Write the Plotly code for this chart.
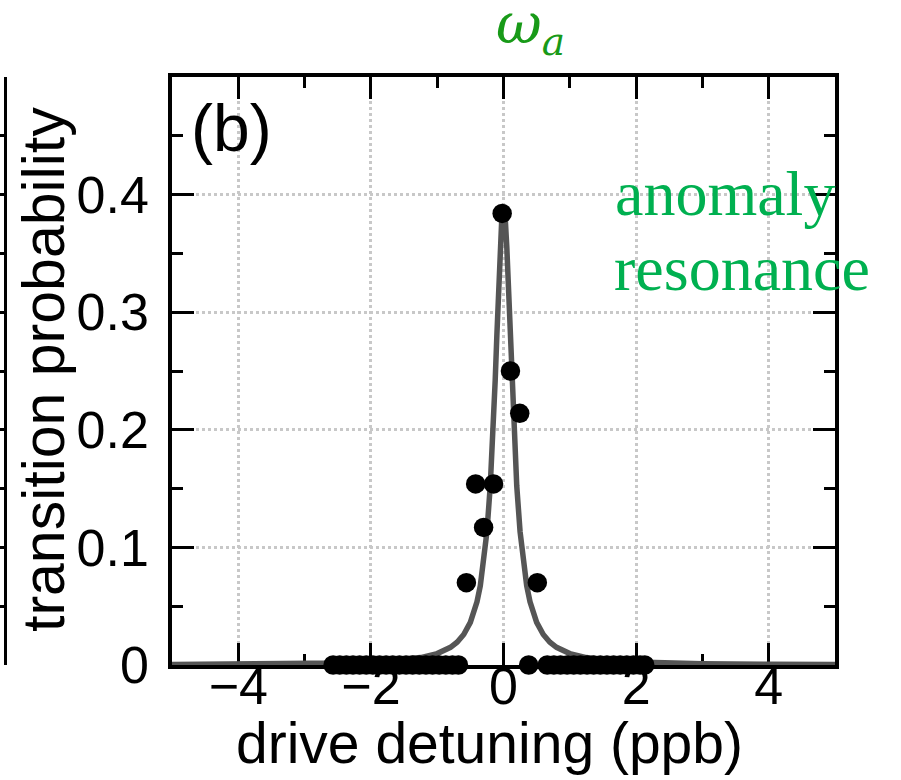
import plotly.graph_objects as go

# measured data points (drive detuning in ppb, transition probability)
pts_x = [-2.57, -2.47, -2.37, -2.27, -2.17, -2.07, -1.97, -1.87, -1.77, -1.67,
         -1.57, -1.47, -1.37, -1.27, -1.17, -1.07, -0.97, -0.87, -0.77, -0.68,
         -0.56, -0.42, -0.30, -0.15, -0.02, 0.105, 0.245, 0.38, 0.51,
         0.66, 0.76, 0.86, 0.96, 1.06, 1.16, 1.26, 1.36, 1.46, 1.56,
         1.66, 1.76, 1.86, 1.96, 2.06, 2.13]
pts_y = [0, 0, 0, 0, 0, 0, 0, 0, 0, 0,
         0, 0, 0, 0, 0, 0, 0, 0, 0, 0,
         0.070, 0.154, 0.117, 0.154, 0.384, 0.250, 0.214, 0, 0.070,
         0, 0, 0, 0, 0, 0, 0, 0, 0, 0,
         0, 0, 0, 0, 0, 0]

# fitted resonance line
fit_x = [-5, -4, -3, -2.5, -2, -1.5, -1.25, -1.0, -0.8, -0.7, -0.6, -0.5, -0.4,
         -0.35, -0.3, -0.25, -0.2, -0.175, -0.15, -0.125, -0.1, -0.075, -0.05,
         -0.025, 0, 0.025, 0.05, 0.075, 0.1, 0.125, 0.15, 0.175, 0.2, 0.25,
         0.3, 0.35, 0.4, 0.5, 0.6, 0.7, 0.8, 1.0, 1.25, 1.5, 2, 2.5, 3, 4, 5]
fit_y = [0.0004, 0.0006, 0.0011, 0.0016, 0.0025, 0.0044, 0.0063, 0.0097, 0.015,
         0.0194, 0.0259, 0.0362, 0.0538, 0.0674, 0.0864, 0.1133, 0.1522, 0.1776,
         0.2076, 0.2422, 0.2805, 0.3198, 0.355, 0.381, 0.39, 0.381, 0.355,
         0.3198, 0.2805, 0.2422, 0.2076, 0.1776, 0.1522, 0.1133, 0.0864,
         0.0674, 0.0538, 0.0362, 0.0259, 0.0194, 0.015, 0.0097, 0.0063, 0.0044,
         0.0025, 0.0016, 0.0011, 0.0006, 0.0004]

x_ticks = [-4, -2, 0, 2, 4]
x_tick_text = ["\u22124", "\u22122", "0", "2", "4"]
y_ticks = [0, 0.1, 0.2, 0.3, 0.4]
y_tick_text = ["0", "0.1", "0.2", "0.3", "0.4"]

W, H = 901, 780
def px(x):
    return x / W
def py(y):
    return 1 - y / H

fig = go.Figure()
fig.add_trace(go.Scatter(x=fit_x, y=fit_y, mode="lines",
                         line=dict(color="#555555", width=5.5),
                         cliponaxis=False, hoverinfo="skip", showlegend=False))
fig.add_trace(go.Scatter(x=pts_x, y=pts_y, mode="markers",
                         marker=dict(color="black", size=19.5, line=dict(width=0)),
                         cliponaxis=False, showlegend=False))
# invisible traces to attach the helper axes
fig.add_trace(go.Scatter(x=[None], y=[None], yaxis="y2", showlegend=False))
fig.add_trace(go.Scatter(x=[None], y=[None], xaxis="x2", showlegend=False))

font_sans = "Liberation Sans, Arial, sans-serif"
tick_font = dict(family=font_sans, size=52, color="black")
axis_common = dict(
    showline=True, linecolor="black", linewidth=3.5, mirror="ticks",
    ticks="inside", ticklen=22, tickwidth=3, tickcolor="black",
    showgrid=True, gridcolor="#c8c8c8", griddash="dot", gridwidth=2.5,
    zeroline=False, layer="below traces", automargin=False,
    tickfont=tick_font,
)

fig.update_layout(
    template="none",
    width=W, height=H,
    margin=dict(l=0, r=0, t=0, b=0),
    paper_bgcolor="white", plot_bgcolor="white",
    showlegend=False,
    xaxis=dict(domain=[px(172), px(835)], range=[-5, 5],
               tickvals=x_ticks, showticklabels=False,
               minor=dict(dtick=1, tick0=1, ticks="inside", ticklen=11,
                          tickwidth=3, tickcolor="black", showgrid=False),
               **axis_common),
    # x tick labels, drawn a little closer to the axis than plotly's default
    xaxis2=dict(overlaying="x", anchor="free", position=py(651), side="bottom",
                domain=[px(172), px(835)], range=[-5, 5],
                tickvals=x_ticks, ticktext=x_tick_text, tickfont=tick_font,
                ticks="", showline=False, showgrid=False, zeroline=False,
                ticklabelstandoff=0, automargin=False),
    yaxis=dict(domain=[py(665), py(77)], range=[0, 0.5],
               tickvals=y_ticks, ticktext=y_tick_text,
               minor=dict(dtick=0.1, tick0=0.05, ticks="inside", ticklen=11,
                          tickwidth=3, tickcolor="black", showgrid=False),
               ticklabelstandoff=9,
               **axis_common),
    yaxis2=dict(overlaying="y", anchor="free", position=px(5), side="right",
                range=[0, 0.5], dtick=0.05, showticklabels=False,
                showline=True, linecolor="black", linewidth=3,
                ticks="inside", ticklen=14, tickwidth=2.5, tickcolor="black",
                showgrid=False, zeroline=False, automargin=False),
)

ann = [
    dict(text="drive detuning (ppb)", x=px(490), y=py(743),
         font=dict(family=font_sans, size=57, color="black")),
    dict(text="transition probability", x=px(44), y=py(370), textangle=-90,
         font=dict(family=font_sans, size=59, color="black")),
    dict(text="(b)", x=px(232), y=py(128),
         font=dict(family=font_sans, size=66, color="black")),
    dict(text="<i>\u03c9</i><sub><i>a</i></sub>", x=px(530), y=py(28),
         font=dict(family="DejaVu Serif, serif", size=56, color="#189a18")),
    dict(text="anomaly", x=px(613), y=py(193), xanchor="left",
         font=dict(family="Liberation Serif, Times New Roman, serif", size=64,
                   color="#00b050")),
    dict(text="resonance", x=px(612), y=py(268), xanchor="left",
         font=dict(family="Liberation Serif, Times New Roman, serif", size=64,
                   color="#00b050")),
]
for a in ann:
    a.setdefault("xanchor", "center")
    a.setdefault("yanchor", "middle")
    fig.add_annotation(xref="paper", yref="paper", showarrow=False, **a)

fig.write_html("out.html", config={"displayModeBar": False},
               post_script="document.body.style.margin='0';")
